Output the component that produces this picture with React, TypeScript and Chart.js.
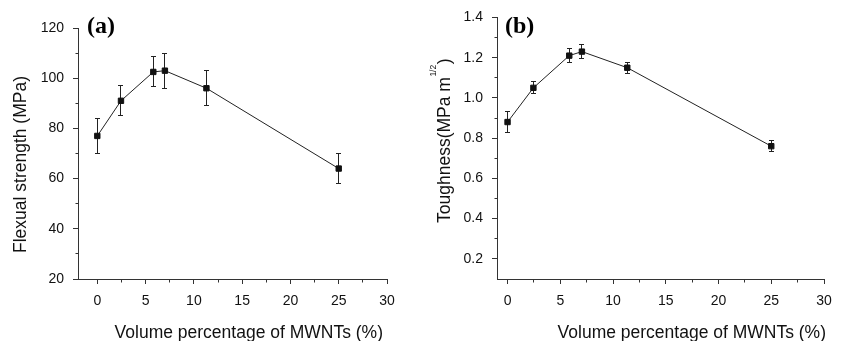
import React, { useEffect, useRef } from "react";
import { Chart, registerables } from "chart.js";

Chart.register(...registerables);

// ---------- data ----------
const volumeA = [0, 2.45, 5.8, 7, 11.3, 25];
const strength = [77, 91, 102.5, 103, 96, 64];
const strengthErr = [7, 6, 6, 7, 7, 6];

const volumeB = [0, 2.45, 5.85, 7.05, 11.35, 25];
const toughness = [0.88, 1.05, 1.21, 1.23, 1.15, 0.76];
const toughnessErr = [0.05, 0.03, 0.035, 0.035, 0.028, 0.026];

const xTicks = [0, 5, 10, 15, 20, 25, 30];
const xMinorTicks = [2.5, 7.5, 12.5, 17.5, 22.5, 27.5];
const strengthTicks = [20, 40, 60, 80, 100, 120];
const strengthMinorTicks = [30, 50, 70, 90, 110];
const toughnessTicks = [0.2, 0.4, 0.6, 0.8, 1.0, 1.2, 1.4];
const toughnessMinorTicks = [0.3, 0.5, 0.7, 0.9, 1.1, 1.3];

const xTitle = "Volume percentage of MWNTs (%)";
const SANS = '"Liberation Sans", Arial, Helvetica, sans-serif';
const SERIF = '"Liberation Serif", "Times New Roman", serif';
const AXIS = "#333";
const TEXT = "#111";

type PanelCfg = {
  xs: number[];
  ys: number[];
  errs: number[];
  xMin: number;
  yMin: number;
  yMax: number;
  yTicks: number[];
  yMinor: number[];
  yFmt: (v: number) => string;
  yWidth: number;
  padTop: number;
  padRight: number;
  label: string;
  labelX: number;
  labelY: number;
  xTitleRight: number;
  xTitleY: number;
  yTitleParts: { text: string; sup?: boolean }[];
  yTitleX: number;
  yTitleStart: number;
};

function makeDecor(p: PanelCfg) {
  return {
    id: "panelDecor",
    beforeDatasetsDraw(chart: any) {
      const { ctx } = chart;
      const xs = chart.scales.x;
      const ys = chart.scales.y;
      ctx.save();
      ctx.strokeStyle = "#222";
      ctx.lineWidth = 1;
      const cap = 2.5;
      p.xs.forEach((xv, i) => {
        const px = Math.round(xs.getPixelForValue(xv) - 0.5) + 0.5;
        const yTop = Math.round(ys.getPixelForValue(p.ys[i] + p.errs[i]) - 0.5) + 0.5;
        const yBot = Math.round(ys.getPixelForValue(p.ys[i] - p.errs[i]) - 0.5) + 0.5;
        ctx.beginPath();
        ctx.moveTo(px, yTop);
        ctx.lineTo(px, yBot);
        ctx.moveTo(px - cap, yTop);
        ctx.lineTo(px + cap, yTop);
        ctx.moveTo(px - cap, yBot);
        ctx.lineTo(px + cap, yBot);
        ctx.stroke();
      });
      ctx.restore();
    },
    afterDraw(chart: any) {
      const { ctx, chartArea } = chart;
      const xs = chart.scales.x;
      const ys = chart.scales.y;
      ctx.save();
      // minor ticks
      ctx.strokeStyle = AXIS;
      ctx.lineWidth = 1;
      ctx.beginPath();
      const yb = Math.round(chartArea.bottom - 0.5) + 0.5;
      xMinorTicks.forEach((v) => {
        const px = Math.round(xs.getPixelForValue(v) - 0.5) + 0.5;
        ctx.moveTo(px, yb);
        ctx.lineTo(px, yb + 3);
      });
      const xl = Math.round(chartArea.left - 0.5) + 0.5;
      p.yMinor.forEach((v) => {
        const py = Math.round(ys.getPixelForValue(v) - 0.5) + 0.5;
        ctx.moveTo(xl, py);
        ctx.lineTo(xl - 3, py);
      });
      ctx.stroke();

      // panel label
      ctx.fillStyle = "#000";
      ctx.font = `bold 24px ${SERIF}`;
      ctx.textAlign = "left";
      ctx.textBaseline = "alphabetic";
      ctx.fillText(p.label, p.labelX, p.labelY);

      // x title
      ctx.fillStyle = TEXT;
      ctx.font = `17.5px ${SANS}`;
      ctx.textAlign = "right";
      ctx.fillText(xTitle, p.xTitleRight, p.xTitleY);

      // y title (rotated, with optional superscript)
      ctx.translate(p.yTitleX, p.yTitleStart);
      ctx.rotate(-Math.PI / 2);
      ctx.textAlign = "left";
      let pos = 0;
      p.yTitleParts.forEach((part) => {
        if (part.sup) {
          ctx.font = `8.5px ${SANS}`;
          ctx.fillText(part.text, pos + 0.5, -14);
          pos += ctx.measureText(part.text).width + 1;
        } else {
          ctx.font = `17.5px ${SANS}`;
          ctx.fillText(part.text, pos, 0);
          pos += ctx.measureText(part.text).width;
        }
      });
      ctx.restore();
    },
  };
}

function makeConfig(p: PanelCfg): any {
  const grid = {
    display: true,
    drawOnChartArea: false,
    drawTicks: true,
    tickLength: 5,
    tickColor: AXIS,
    tickWidth: 1,
  };
  const border = { display: true, color: AXIS, width: 1 };
  return {
    type: "line",
    data: {
      datasets: [
        {
          data: p.xs.map((x, i) => ({ x, y: p.ys[i] })),
          borderColor: "#222",
          borderWidth: 1,
          tension: 0,
          fill: false,
          pointStyle: "rect",
          pointRadius: 3.8,
          pointBackgroundColor: "#111",
          pointBorderColor: "#111",
          pointBorderWidth: 1,
        },
      ],
    },
    options: {
      responsive: false,
      animation: false,
      devicePixelRatio: 1,
      layout: { padding: { left: 0, top: p.padTop, right: p.padRight, bottom: 0 } },
      plugins: {
        legend: { display: false },
        tooltip: { enabled: false },
      },
      scales: {
        x: {
          type: "linear",
          min: p.xMin,
          max: 30,
          afterFit: (s: any) => {
            s.height = 62;
          },
          afterBuildTicks: (s: any) => {
            s.ticks = xTicks.map((v) => ({ value: v }));
          },
          ticks: {
            autoSkip: false,
            maxRotation: 0,
            padding: 9,
            color: TEXT,
            font: { family: SANS, size: 14 },
            callback: (v: any) => String(v),
          },
          grid,
          border,
        },
        y: {
          type: "linear",
          min: p.yMin,
          max: p.yMax,
          afterFit: (s: any) => {
            s.width = p.yWidth;
          },
          afterBuildTicks: (s: any) => {
            s.ticks = p.yTicks.map((v) => ({ value: v }));
          },
          ticks: {
            autoSkip: false,
            padding: 9,
            color: TEXT,
            font: { family: SANS, size: 14 },
            callback: (v: any) => p.yFmt(Number(v)),
          },
          grid,
          border,
        },
      },
    },
    plugins: [makeDecor(p)],
  };
}

const panelA: PanelCfg = {
  xs: volumeA,
  ys: strength,
  errs: strengthErr,
  xMin: -2,
  yMin: 20,
  yMax: 120,
  yTicks: strengthTicks,
  yMinor: strengthMinorTicks,
  yFmt: (v) => String(v),
  yWidth: 78,
  padTop: 28,
  padRight: 33,
  label: "(a)",
  labelX: 87,
  labelY: 33,
  xTitleRight: 383,
  xTitleY: 337.5,
  yTitleParts: [{ text: "Flexual strength (MPa)" }],
  yTitleX: 26,
  yTitleStart: 253,
};

const panelB: PanelCfg = {
  xs: volumeB,
  ys: toughness,
  errs: toughnessErr,
  xMin: -1,
  yMin: 0.1,
  yMax: 1.4,
  yTicks: toughnessTicks,
  yMinor: toughnessMinorTicks,
  yFmt: (v) => v.toFixed(1),
  yWidth: 77,
  padTop: 16,
  padRight: 20,
  label: "(b)",
  labelX: 85,
  labelY: 33,
  xTitleRight: 406,
  xTitleY: 337.5,
  yTitleParts: [{ text: "Toughness(MPa m" }, { text: "1/2", sup: true }, { text: ")" }],
  yTitleX: 29.5,
  yTitleStart: 223,
};

function Panel({ cfg, left, width }: { cfg: PanelCfg; left: number; width: number }) {
  const ref = useRef<HTMLCanvasElement>(null);
  useEffect(() => {
    const chart = new Chart(ref.current as HTMLCanvasElement, makeConfig(cfg));
    return () => chart.destroy();
  }, [cfg]);
  return (
    <canvas
      ref={ref}
      width={width}
      height={341}
      style={{ position: "absolute", left, top: 0, width, height: 341 }}
    />
  );
}

export default function App() {
  return (
    <div
      style={{
        position: "fixed",
        left: 0,
        top: 0,
        width: 844,
        height: 341,
        background: "#fff",
        overflow: "hidden",
      }}
    >
      <Panel cfg={panelA} left={0} width={420} />
      <Panel cfg={panelB} left={420} width={424} />
    </div>
  );
}
